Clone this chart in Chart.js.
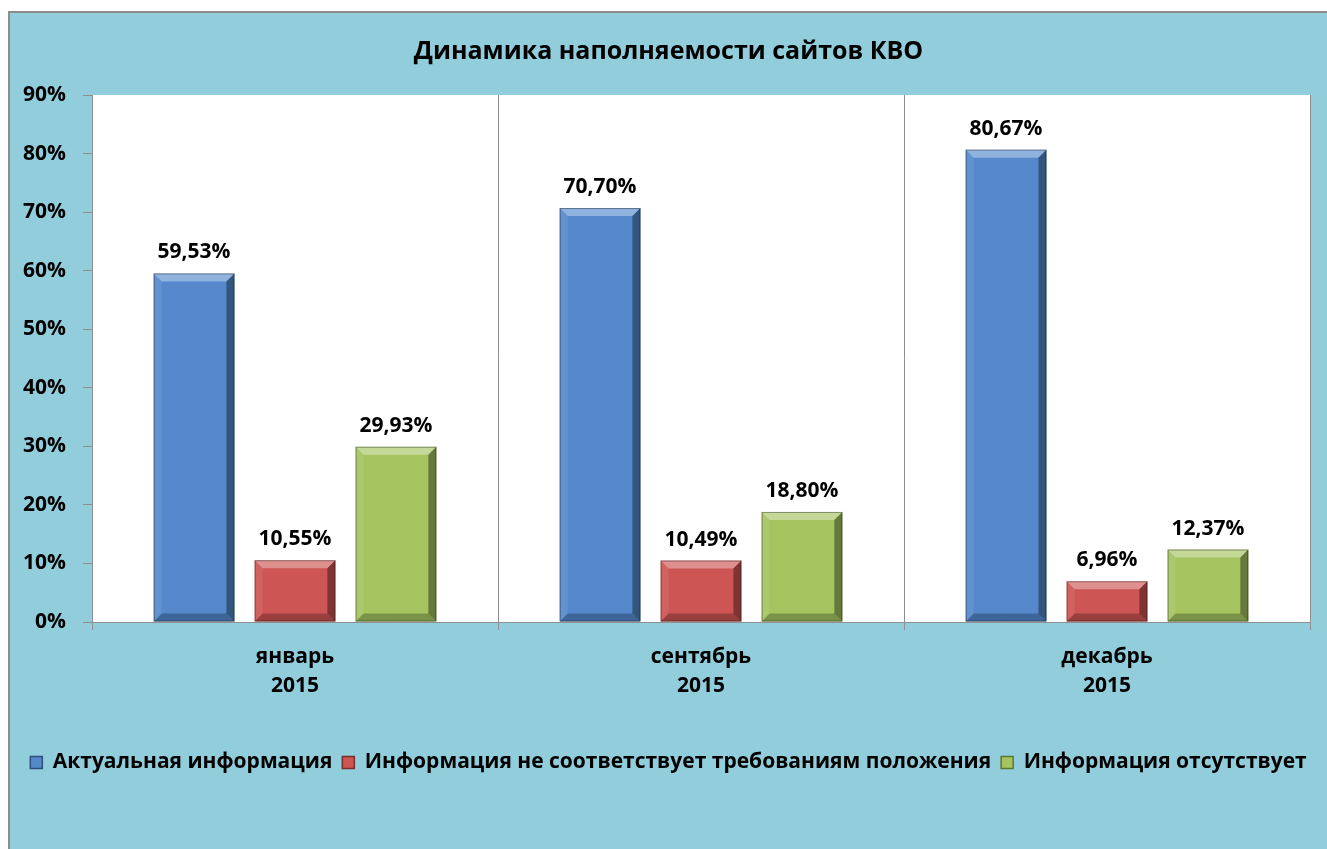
<!DOCTYPE html>
<html>
<head>
<meta charset="utf-8">
<title>Динамика наполняемости сайтов КВО</title>
<script src="https://cdn.jsdelivr.net/npm/chart.js@4/dist/chart.umd.min.js"></script>
<style>
    body { margin: 0; background: #ffffff; }
    #frame {
        position: absolute;
        left: 8px;
        top: 11px;
        width: 1319px;
        height: 838px;
        border-top: 2px solid #8c8c8c;
        border-left: 2px solid #8c8c8c;
        background: #92cddc;
    }
    #chart { display: block; }
</style>
</head>
<body>
<div id="frame">
    <canvas id="chart" width="1317" height="836"></canvas>
</div>
<script>
// Chart data
const categories = [['январь', '2015'], ['сентябрь', '2015'], ['декабрь', '2015']];
const seriesNames = [
    'Актуальная информация',
    'Информация не соответствует требованиям положения',
    'Информация отсутствует'
];
const actualValues = [59.53, 70.70, 80.67];
const mismatchValues = [10.55, 10.49, 6.96];
const missingValues = [29.93, 18.80, 12.37];
const yTicks = [0, 10, 20, 30, 40, 50, 60, 70, 80, 90];

const FONT = '"Open Sans", "Liberation Sans", sans-serif';
const GRID = '#8f8f8f';

// White plot area behind the bars
const plotBackground = {
    id: 'plotBackground',
    beforeDraw(chart) {
        const { ctx, chartArea } = chart;
        ctx.save();
        ctx.fillStyle = '#ffffff';
        ctx.fillRect(chartArea.left, chartArea.top, chartArea.right - chartArea.left, chartArea.bottom - chartArea.top);
        ctx.restore();
    }
};

// Bevel look on every bar
const barBevel = {
    id: 'barBevel',
    afterDatasetsDraw(chart) {
        const ctx = chart.ctx;
        chart.data.datasets.forEach((ds, i) => {
            chart.getDatasetMeta(i).data.forEach(bar => {
                const p = bar.getProps(['x', 'y', 'base', 'width'], true);
                const l = p.x - p.width / 2, r = p.x + p.width / 2;
                const t = p.y, b = p.base, s = 8;
                const poly = (pts, fill) => {
                    ctx.beginPath();
                    ctx.moveTo(pts[0][0], pts[0][1]);
                    pts.slice(1).forEach(q => ctx.lineTo(q[0], q[1]));
                    ctx.closePath();
                    ctx.fillStyle = fill;
                    ctx.fill();
                };
                ctx.save();
                poly([[l, t], [r, t], [r - s, t + s], [l + s, t + s]], 'rgba(255,255,255,0.35)');
                poly([[l, t], [l + s, t + s], [l + s, b - s], [l, b]], 'rgba(255,255,255,0.08)');
                poly([[r, t], [r, b], [r - s, b - s], [r - s, t + s]], 'rgba(0,0,0,0.38)');
                poly([[l, b], [r, b], [r - s, b - s], [l + s, b - s]], 'rgba(0,0,0,0.25)');
                ctx.lineWidth = 1;
                ctx.strokeStyle = 'rgba(0,0,0,0.35)';
                ctx.strokeRect(l + 0.5, t + 0.5, p.width - 1, b - t - 1);
                ctx.restore();
            });
        });
    }
};

// Value labels above bars
const valueLabels = {
    id: 'valueLabels',
    afterDatasetsDraw(chart) {
        const ctx = chart.ctx;
        ctx.save();
        ctx.font = 'bold 21px ' + FONT;
        ctx.fillStyle = '#000000';
        ctx.textAlign = 'center';
        ctx.textBaseline = 'alphabetic';
        chart.data.datasets.forEach((ds, i) => {
            chart.getDatasetMeta(i).data.forEach((bar, j) => {
                const text = ds.data[j].toFixed(2).replace('.', ',') + '%';
                ctx.fillText(text, bar.x, bar.y - 15);
            });
        });
        ctx.restore();
    }
};

const ctx = document.getElementById('chart').getContext('2d');
const chart = new Chart(ctx, {
    type: 'bar',
    data: {
        labels: categories,
        datasets: [{
            label: seriesNames[0],
            data: actualValues,
            backgroundColor: '#5589cc',
            borderColor: '#2f4f7a',
            borderWidth: 0
        }, {
            label: seriesNames[1],
            data: mismatchValues,
            backgroundColor: '#cd5553',
            borderColor: '#7a2e2c',
            borderWidth: 0
        }, {
            label: seriesNames[2],
            data: missingValues,
            backgroundColor: '#a5c460',
            borderColor: '#5f7534',
            borderWidth: 0
        }]
    },
    plugins: [plotBackground, barBevel, valueLabels],
    options: {
        responsive: false,
        animation: false,
        categoryPercentage: 0.746,
        barPercentage: 0.8,
        layout: {
            padding: { left: 0, right: 0, top: 0, bottom: 66 }
        },
        plugins: {
            tooltip: { enabled: false },
            title: {
                display: true,
                text: 'Динамика наполняемости сайтов КВО',
                color: '#000000',
                font: { family: FONT, size: 25, weight: 'bold', lineHeight: 1.2 },
                padding: { top: 24, bottom: 28 }
            },
            legend: {
                position: 'bottom',
                labels: {
                    color: '#000000',
                    font: { family: FONT, size: 21, weight: 'bold' },
                    boxWidth: 12,
                    boxHeight: 12,
                    padding: 10,
                    generateLabels(chart) {
                        return chart.data.datasets.map((ds, i) => ({
                            text: ds.label,
                            fillStyle: ds.backgroundColor,
                            strokeStyle: ds.borderColor,
                            lineWidth: 1.5,
                            fontColor: '#000000',
                            datasetIndex: i
                        }));
                    }
                }
            }
        },
        scales: {
            x: {
                afterFit(scale) { scale.height = 120; },
                grid: {
                    color: GRID,
                    offset: true,
                    tickLength: 8
                },
                border: { color: GRID },
                ticks: {
                    color: '#000000',
                    padding: 12,
                    font: { family: FONT, size: 21, weight: 'bold', lineHeight: 1.4 }
                }
            },
            y: {
                min: 0,
                max: 90,
                afterFit(scale) { scale.width = 82; },
                afterBuildTicks(scale) { scale.ticks = yTicks.map(v => ({ value: v })); },
                grid: {
                    drawOnChartArea: false,
                    color: GRID,
                    tickLength: 9
                },
                border: { color: GRID },
                ticks: {
                    color: '#000000',
                    padding: 17,
                    font: { family: FONT, size: 21, weight: 'bold' },
                    callback: function(value) {
                        return value + '%';
                    }
                }
            },
            // empty strip on the right side of the plot
            yRight: {
                position: 'right',
                min: 0,
                max: 90,
                afterFit(scale) { scale.width = 17; },
                grid: { display: false },
                border: { display: false },
                ticks: { display: false }
            }
        }
    }
});
</script>
</body>
</html>
